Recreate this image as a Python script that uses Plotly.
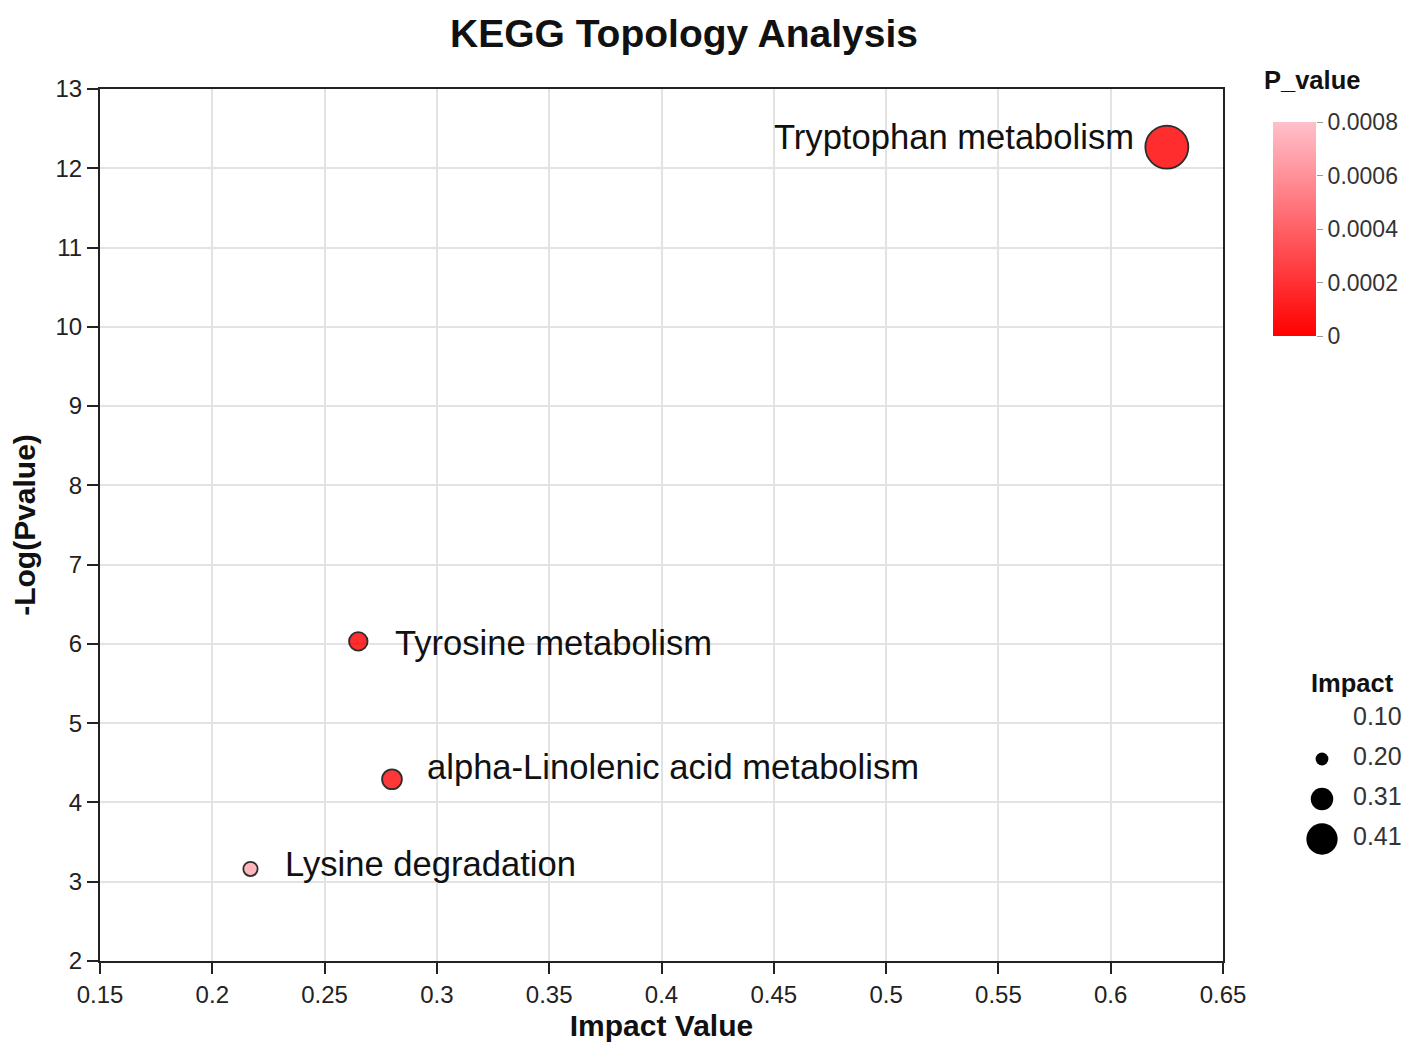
import numpy as np
import plotly.graph_objects as go

pathways = ["Tryptophan metabolism", "Tyrosine metabolism",
            "alpha-Linolenic acid metabolism", "Lysine degradation"]
impact = [0.625, 0.265, 0.280, 0.217]
p_values = [5.4e-13, 9.3e-7, 5.1e-5, 6.9e-4]

size_legend_vals = [0.10, 0.20, 0.31, 0.41]
size_legend_text = ["0.10", "0.20", "0.31", "0.41"]

cbar_tickvals = [0, 0.0002, 0.0004, 0.0006, 0.0008]
cbar_ticktext = ["0", "0.0002", "0.0004", "0.0006", "0.0008"]

x_ticks = [0.15, 0.2, 0.25, 0.3, 0.35, 0.4, 0.45, 0.5, 0.55, 0.6, 0.65]
y_ticks = list(range(2, 14))

neg_log_p = [-np.log10(p) for p in p_values]
P_MIN, P_MAX = cbar_tickvals[0], cbar_tickvals[-1]


def diam(v):
    if v <= 0.10:
        return 0.0
    return float(min(43.0, 4.0 + 88.0 * (v - 0.10)))


FONT = "Liberation Sans, Arial, sans-serif"
COLORSCALE = [[0, "#FF0000"], [1, "#FFC0CB"]]

# layout geometry (figure pixels)
ML, MR, MT, MB = 92, 20, 81, 104
W, H = 1418, 1057
PW = W - ML - MR
PH = H - MT - MB


def px_x(p):
    return (p - ML) / PW


def px_y(p):
    return (H - MB - p) / PH


fig = go.Figure()

fig.add_trace(go.Scatter(
    x=impact, y=neg_log_p, mode="markers",
    marker=dict(
        size=[diam(v) for v in impact],
        color=p_values, colorscale=COLORSCALE, cmin=P_MIN, cmax=P_MAX,
        opacity=0.82, showscale=False,
        line=dict(color="#000000", width=1.8),
    ),
    showlegend=False, hoverinfo="text", text=pathways,
))

# colour scale bar (P_value)
grad = np.linspace(P_MIN, P_MAX, 201)
fig.add_trace(go.Heatmap(
    x=[0], y=grad, z=[[g] for g in grad],
    colorscale=COLORSCALE, zmin=P_MIN, zmax=P_MAX, showscale=False,
    zsmooth="best", hoverinfo="skip", xaxis="x3", yaxis="y3",
))

# size legend
leg_y = [141 - 40 * i for i in range(len(size_legend_vals))]
fig.add_trace(go.Scatter(
    x=[22] * len(size_legend_vals), y=leg_y, mode="markers",
    marker=dict(size=[diam(v) for v in size_legend_vals], color="#000000",
                opacity=1, line=dict(width=0)),
    xaxis="x2", yaxis="y2", showlegend=False, hoverinfo="skip",
))
fig.add_trace(go.Scatter(
    x=[53] * len(size_legend_vals), y=leg_y, mode="text",
    text=size_legend_text, textposition="middle right",
    textfont=dict(size=25, color="#333333", family=FONT),
    xaxis="x2", yaxis="y2", showlegend=False, hoverinfo="skip", cliponaxis=False,
))

# point labels
label_style = [
    dict(xanchor="right", xshift=-31, yshift=10),
    dict(xanchor="left", xshift=35, yshift=-2),
    dict(xanchor="left", xshift=33, yshift=12),
    dict(xanchor="left", xshift=33, yshift=5),
]
for name, xv, yv, st in zip(pathways, impact, neg_log_p, label_style):
    fig.add_annotation(x=xv, y=yv, text=name, showarrow=False,
                       yanchor="middle", font=dict(size=34.6, color="#111111", family=FONT),
                       **st)

fig.add_annotation(xref="paper", yref="paper", x=px_x(1254), y=px_y(72),
                   text="<b>P_value</b>", showarrow=False, xanchor="left",
                   yanchor="middle", font=dict(size=25.5, color="#111111", family=FONT))
fig.add_annotation(xref="x2", yref="y2", x=52, y=177,
                   text="<b>Impact</b>", showarrow=False, xanchor="center",
                   yanchor="middle", font=dict(size=25.5, color="#111111", family=FONT))

axis_common = dict(
    showline=True, linecolor="#222222", linewidth=2, mirror=True,
    showgrid=True, gridcolor="#e3e3e3", gridwidth=2,
    ticks="outside", ticklen=11, tickwidth=2, tickcolor="#222222",
    tickfont=dict(size=24, color="#222222", family=FONT),
    zeroline=False, automargin=False,
)

fig.update_layout(
    width=W, height=H,
    margin=dict(l=ML, r=MR, t=MT, b=MB),
    paper_bgcolor="white", plot_bgcolor="white",
    font=dict(family=FONT, color="#111111"),
    title=dict(text="<b>KEGG Topology Analysis</b>", x=676 / W, xref="container",
               xanchor="center", y=1 - 25 / H, yref="container", yanchor="middle",
               font=dict(size=39, color="#111111", family=FONT)),
    xaxis=dict(domain=[0, 1123 / PW], range=[0.15, 0.65], tickvals=x_ticks,
               ticktext=[f"{t:g}" for t in x_ticks],
               title=dict(text="<b>Impact Value</b>", font=dict(size=30, family=FONT),
                          standoff=8),
               **axis_common),
    yaxis=dict(domain=[0, 1], range=[2, 13], tickvals=y_ticks,
               title=dict(text="<b>-Log(Pvalue)</b>", font=dict(size=30, family=FONT),
                          standoff=27),
               **axis_common),
    xaxis2=dict(domain=[px_x(1292), 1], range=[0, W - MR - 1292], visible=False,
                anchor="y2", fixedrange=True, automargin=False),
    yaxis2=dict(domain=[px_y(852), px_y(662)], range=[0, 190],
                visible=False, anchor="x2", fixedrange=True, automargin=False),
    xaxis3=dict(domain=[px_x(1265), px_x(1308)], range=[-0.5, 0.5], visible=False,
                anchor="y3", fixedrange=True, automargin=False),
    yaxis3=dict(domain=[px_y(328), px_y(114)], range=[P_MIN, P_MAX], anchor="x3",
                side="right", tickvals=cbar_tickvals, ticktext=cbar_ticktext,
                ticks="outside", ticklen=6, tickwidth=1, tickcolor="#999999",
                tickfont=dict(size=23, color="#333333", family=FONT),
                showgrid=False, showline=False, zeroline=False, automargin=False,
                fixedrange=True),
)

fig.write_html("out.html")
